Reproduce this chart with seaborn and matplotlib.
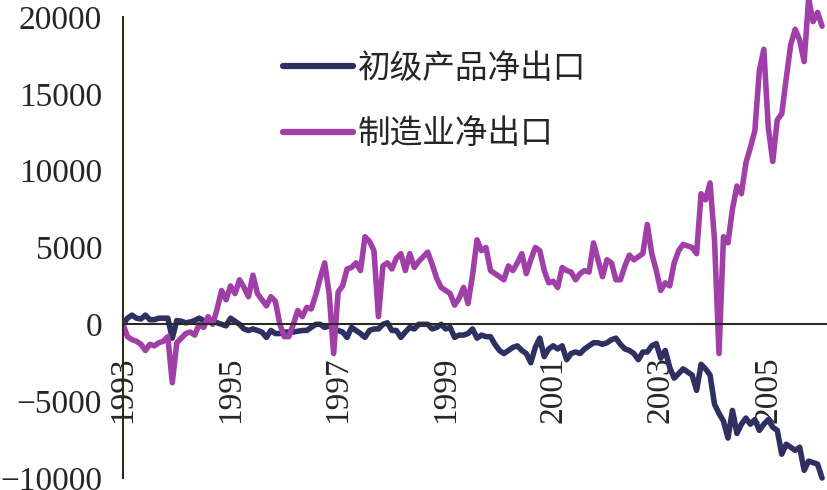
import numpy as np
import matplotlib
matplotlib.use("Agg")
import matplotlib.pyplot as plt
import pandas as pd
import seaborn as sns

# 月度数据, 1993年1月 - 2006年1月 (单位: 百万美元)
primary = [
    0, 400, 600, 400, 350, 600, 300, 300, 400, 400, 400, -900,            # 1993
    250, 200, 100, 150, 250, 400, 250, 150, 250, 100, 0, -100,            # 1994
    400, 200, 0, -300, -400, -300, -400, -500, -850, -400, -600, -600,    # 1995
    -500, -500, -500, -450, -400, -400, -200, 0, 0, -200, -100, -300,     # 1996
    -400, -500, -850, -200, -400, -600, -850, -400, -300, -300, 0, 100,   # 1997
    -400, -400, -850, -500, -200, -300, 0, 0, 0, -300, -200, 0,           # 1998
    -300, -200, -850, -700, -700, -600, -300, -900, -700, -800, -800, -1300,  # 1999
    -1700, -1900, -1700, -1500, -1400, -1700, -1900, -2500, -1500, -900, -2100, -1600,  # 2000
    -1400, -1600, -1400, -2300, -1900, -1800, -1900, -1600, -1400, -1200, -1200, -1300,  # 2001
    -1200, -1000, -900, -1300, -1600, -1700, -1900, -2300, -1800, -1800, -1400, -1250,  # 2002
    -2200, -1700, -2800, -3500, -3200, -2900, -3100, -3300, -4300, -2600, -2900, -3300,  # 2003
    -5200, -5800, -6300, -7400, -5600, -7100, -6500, -6100, -6500, -6200, -6900, -6500,  # 2004
    -6200, -6700, -6900, -8450, -7800, -8000, -8200, -8000, -9500, -8900, -9000, -9100,  # 2005
    -10000,                                                                # 2006
]
manufacturing = [
    0, -800, -1000, -1100, -1300, -1700, -1300, -1400, -1200, -1100, -800, -3800,   # 1993
    -1200, -900, -600, -500, -700, 0, -200, 500, 0, 1000, 2200, 1600,              # 1994
    2500, 2000, 2900, 2400, 1800, 3200, 2000, 1600, 1200, 1800, 1500, 0,           # 1995
    -800, -800, 0, 900, 500, 1100, 1000, 1900, 3000, 4000, 2000, -1900,            # 1996
    2100, 2500, 3600, 3700, 4000, 3500, 5700, 5400, 4800, 500, 3800, 4000,         # 1997
    3600, 4300, 4600, 3500, 4600, 3700, 4100, 4400, 4700, 3900, 3000, 2400,        # 1998
    2200, 2000, 1250, 1700, 2400, 1350, 3200, 5500, 4800, 5000, 3500, 3300,        # 1999
    3100, 2900, 3800, 3500, 4000, 4600, 3300, 4200, 5000, 4800, 3500, 2700,        # 2000
    2800, 2400, 3700, 3500, 3400, 2900, 3300, 3500, 3400, 5300, 4200, 3100,        # 2001
    4200, 4000, 2900, 2900, 3800, 4500, 4200, 4400, 4600, 6500, 4600, 3500,        # 2002
    2200, 2700, 2500, 4000, 4800, 5200, 5100, 5000, 4600, 8500, 8100, 9200,        # 2003
    5500, -1900, 5700, 5300, 7500, 9000, 8500, 10500, 11500, 12600, 16500, 17900,  # 2004
    12800, 10600, 13300, 13700, 16000, 18200, 19200, 18500, 17100, 21200, 19700, 20300,  # 2005
    19400,                                                                         # 2006
]
series_names = ["初级产品净出口", "制造业净出口"]
year_labels = ["1993", "1995", "1997", "1999", "2001", "2003", "2005"]
y_ticks = [-10000, -5000, 0, 5000, 10000, 15000, 20000]

months = np.arange(len(primary))
df = pd.DataFrame({
    "month": np.concatenate([months, months]),
    "value": primary + manufacturing,
    "series": [series_names[0]] * len(primary) + [series_names[1]] * len(manufacturing),
})

sns.set_style("white")
plt.rcParams["font.family"] = ["Liberation Serif", "Noto Sans CJK SC", "DejaVu Sans"]

fig = plt.figure(figsize=(8.27, 4.90), dpi=100)
ax = fig.add_axes([123 / 827, 0, 704 / 827, 1])

sns.lineplot(data=df, x="month", y="value", hue="series",
             palette=["#2e3062", "#a03fa8"], linewidth=4, ax=ax)

ax.set_xlim(0, 157.1)
ax.set_ylim(-10781, 21106)
ax.set_xlabel("")
ax.set_ylabel("")

for s in ["top", "right"]:
    ax.spines[s].set_visible(False)
ax.spines["left"].set_bounds(-10000, 20000)
ax.spines["bottom"].set_position(("data", 0))
ax.spines["left"].set_color("#2b2b20")
ax.spines["bottom"].set_color("#2b2b20")
ax.spines["left"].set_linewidth(1.5)
ax.spines["bottom"].set_linewidth(1.5)

ax.set_yticks(y_ticks)
ax.set_yticklabels([f"{v}".replace("-", "\u2212") for v in y_ticks], fontsize=24)
ax.set_xticks(np.arange(0, 24 * len(year_labels), 24))
ax.set_xticklabels(year_labels, rotation=90, fontsize=24)
ax.tick_params(axis="y", direction="in", length=6, width=1.5, pad=15, color="#2b2b20")
ax.tick_params(axis="x", direction="in", length=6, width=1.5, pad=23, color="#2b2b20")
for lbl in ax.get_xticklabels():
    lbl.set_verticalalignment("top")

leg = ax.legend(loc="upper left", bbox_to_anchor=((283 - 123) / 704, 1 - 54 / 490),
                frameon=False, fontsize=23.5, handlelength=2.15, handletextpad=0.15,
                labelspacing=1.05, borderpad=0, borderaxespad=0)
for line in leg.get_lines():
    line.set_linewidth(4.5)

fig.savefig("out.png", dpi=100)
